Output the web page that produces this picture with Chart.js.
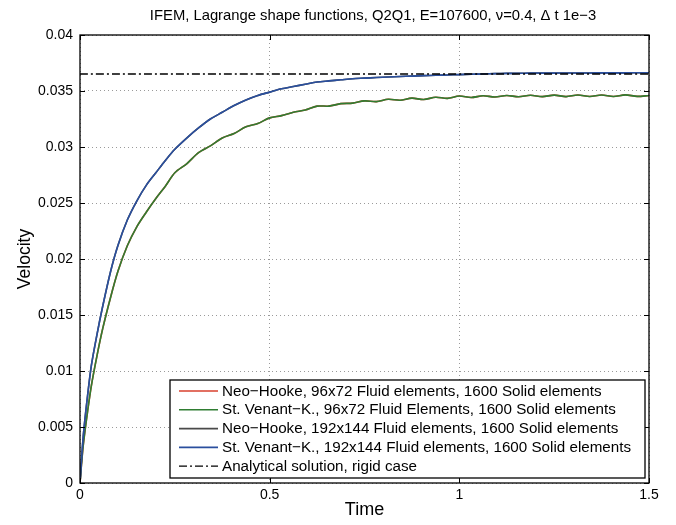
<!DOCTYPE html>
<html>
<head>
<meta charset="utf-8">
<script src="https://cdn.jsdelivr.net/npm/chart.js@4.4.1/dist/chart.umd.min.js"></script>
<style>
  html, body { margin: 0; padding: 0; background: #fff; }
  #wrap { width: 676px; height: 525px; }
</style>
</head>
<body>
<div id="wrap"><canvas id="velChart" width="676" height="525"></canvas></div>
<script>
const time = [0, 0.005, 0.01, 0.02, 0.03, 0.045, 0.06, 0.08, 0.1, 0.125, 0.15, 0.175, 0.2, 0.225,
  0.25, 0.28125, 0.3125, 0.34375, 0.375, 0.40625, 0.4375, 0.46875, 0.5, 0.53125, 0.5625, 0.59375,
  0.625, 0.65625, 0.6875, 0.71875, 0.75, 0.78125, 0.8125, 0.84375, 0.875, 0.90625, 0.9375, 0.96875,
  1.0, 1.03125, 1.0625, 1.09375, 1.125, 1.15625, 1.1875, 1.21875, 1.25, 1.28125, 1.3125, 1.34375,
  1.375, 1.40625, 1.4375, 1.46875, 1.5];

// St. Venant-K. 96x72 (the red Neo-Hooke 96x72 run lies right under it)
const stVenant96 = [0, 0.0021, 0.0038, 0.0064, 0.0087, 0.0114, 0.0138, 0.0165, 0.0189, 0.0212, 0.0229, 0.0242, 0.0254, 0.0265,
  0.0277, 0.0285, 0.0295, 0.0301, 0.0308, 0.0312, 0.0318, 0.0321, 0.0326, 0.0328, 0.0331, 0.0333,
  0.03365, 0.03365, 0.03387, 0.03392, 0.03412, 0.03405, 0.03426, 0.03418, 0.03436, 0.03424, 0.03444, 0.03434,
  0.03455, 0.03442, 0.03457, 0.03447, 0.0346, 0.03449, 0.03462, 0.0345, 0.03463, 0.0345, 0.03464, 0.03451,
  0.03464, 0.03451, 0.03465, 0.03452, 0.0346];
const neoHooke96 = [0, 0.0021, 0.0038, 0.0064, 0.0087, 0.0114, 0.0138, 0.0165, 0.0189, 0.0212, 0.0229, 0.0242, 0.0254, 0.0265,
  0.0277, 0.0285, 0.0295, 0.0301, 0.0308, 0.0312, 0.0318, 0.0321, 0.0326, 0.0328, 0.0331, 0.0333,
  0.03365, 0.03365, 0.03387, 0.03392, 0.03412, 0.03405, 0.03426, 0.03418, 0.03436, 0.03424, 0.03444, 0.03434,
  0.03455, 0.03442, 0.03457, 0.03447, 0.0346, 0.03449, 0.03462, 0.0345, 0.03463, 0.0345, 0.03464, 0.03451,
  0.03464, 0.03451, 0.03465, 0.03452, 0.0346];

// 192x144 runs, both material laws on top of each other
const stVenant192 = [0, 0.0026, 0.0047, 0.0078, 0.0105, 0.0133, 0.0158, 0.0188, 0.0212, 0.0235, 0.0252, 0.0266, 0.0277, 0.0288,
  0.0298, 0.0308, 0.0317, 0.0325, 0.0331, 0.0337, 0.0342, 0.0346, 0.0349, 0.0352, 0.0354, 0.0356,
  0.0358, 0.0359, 0.0360, 0.0361, 0.03615, 0.0362, 0.03625, 0.0363, 0.03633, 0.03637, 0.0364, 0.03643,
  0.03646, 0.0365, 0.03652, 0.03655, 0.03657, 0.03658, 0.0366, 0.0366, 0.0366, 0.03661, 0.03661, 0.03661,
  0.03662, 0.03662, 0.03662, 0.03663, 0.03663];
const neoHooke192 = [0, 0.0026, 0.0047, 0.0078, 0.0105, 0.0133, 0.0158, 0.0188, 0.0212, 0.0235, 0.0252, 0.0266, 0.0277, 0.0288,
  0.0298, 0.0308, 0.0317, 0.0325, 0.0331, 0.0337, 0.0342, 0.0346, 0.0349, 0.0352, 0.0354, 0.0356,
  0.0358, 0.0359, 0.0360, 0.0361, 0.03615, 0.0362, 0.03625, 0.0363, 0.03633, 0.03637, 0.0364, 0.03643,
  0.03646, 0.0365, 0.03652, 0.03655, 0.03657, 0.03658, 0.0366, 0.0366, 0.0366, 0.03661, 0.03661, 0.03661,
  0.03662, 0.03662, 0.03662, 0.03663, 0.03663];

const rigidTime = [0, 1.5];
const rigidVel = [0.03652, 0.03652];

const xTicks = [0, 0.5, 1, 1.5];
const yTicks = [0, 0.005, 0.01, 0.015, 0.02, 0.025, 0.03, 0.035, 0.04];

const titleText = "IFEM, Lagrange shape functions, Q2Q1, E=107600, \u03bd=0.4, \u0394 t 1e\u22123";

function pts(xs, ys) {
  return xs.map((x, i) => ({ x: x, y: ys[i] }));
}

const FONT = "'Liberation Sans', Arial, sans-serif";
Chart.defaults.font.family = FONT;
Chart.defaults.color = "#000";

// MATLAB style box: frame, inward ticks on all four sides, title
const axesBox = {
  id: "axesBox",
  afterDatasetsDraw(chart) {
    const { ctx, chartArea: a, scales } = chart;
    ctx.save();
    ctx.strokeStyle = "#000";
    ctx.lineWidth = 1.3;
    ctx.strokeRect(a.left, a.top, a.right - a.left, a.bottom - a.top);
    ctx.lineWidth = 1;
    ctx.beginPath();
    xTicks.forEach(v => {
      const px = Math.round(scales.x.getPixelForValue(v)) + 0.5;
      ctx.moveTo(px, a.bottom); ctx.lineTo(px, a.bottom - 5);
      ctx.moveTo(px, a.top); ctx.lineTo(px, a.top + 5);
    });
    yTicks.forEach(v => {
      const py = Math.round(scales.y.getPixelForValue(v)) + 0.5;
      ctx.moveTo(a.left, py); ctx.lineTo(a.left + 5, py);
      ctx.moveTo(a.right, py); ctx.lineTo(a.right - 5, py);
    });
    ctx.stroke();
    ctx.fillStyle = "#000";
    ctx.font = "14.8px " + FONT;
    ctx.textAlign = "center";
    ctx.textBaseline = "middle";
    ctx.fillText(titleText, 373, 16);
    ctx.restore();
  }
};

// legend drawn inside the axes, lower right, with a black frame
const boxLegend = {
  id: "boxLegend",
  afterDraw(chart) {
    const { ctx } = chart;
    const x0 = 170, y0 = 380, w = 475, h = 98, rowH = 18.8;
    ctx.save();
    ctx.fillStyle = "#fff";
    ctx.fillRect(x0, y0, w, h);
    ctx.strokeStyle = "#000";
    ctx.lineWidth = 1.3;
    ctx.strokeRect(x0, y0, w, h);
    ctx.font = "15.2px " + FONT;
    ctx.textBaseline = "middle";
    ctx.textAlign = "left";
    chart.data.datasets.forEach((ds, i) => {
      const cy = y0 + 11 + i * rowH;
      ctx.beginPath();
      ctx.strokeStyle = ds.borderColor;
      ctx.lineWidth = ds.borderWidth;
      ctx.setLineDash(ds.borderDash || []);
      ctx.moveTo(179, cy); ctx.lineTo(218, cy);
      ctx.stroke();
      ctx.setLineDash([]);
      ctx.fillStyle = "#000";
      ctx.fillText(ds.label, 222, cy + 0.5);
    });
    ctx.restore();
  }
};

new Chart(document.getElementById("velChart"), {
  type: "line",
  data: {
    datasets: [
      {
        label: "Neo\u2212Hooke, 96x72 Fluid elements, 1600 Solid elements",
        data: pts(time, neoHooke96),
        borderColor: "#d8402e",
        borderWidth: 1.6,
        order: 5,
      },
      {
        label: "St. Venant\u2212K., 96x72 Fluid Elements, 1600 Solid elements",
        data: pts(time, stVenant96),
        borderColor: "#2f7d32",
        borderWidth: 1.6,
        order: 4,
      },
      {
        label: "Neo\u2212Hooke, 192x144 Fluid elements, 1600 Solid elements",
        data: pts(time, neoHooke192),
        borderColor: "#4a4a4a",
        borderWidth: 1.6,
        order: 3,
      },
      {
        label: "St. Venant\u2212K., 192x144 Fluid elements, 1600 Solid elements",
        data: pts(time, stVenant192),
        borderColor: "#2a4f9e",
        borderWidth: 1.6,
        order: 2,
      },
      {
        label: "Analytical solution, rigid case",
        data: pts(rigidTime, rigidVel),
        borderColor: "#000",
        borderWidth: 1.3,
        borderDash: [8, 3, 2, 3],
        order: 1,
      },
    ],
  },
  options: {
    responsive: false,
    animation: false,
    layout: { padding: { top: 35, right: 27, left: 0, bottom: 0 } },
    elements: { point: { radius: 0 }, line: { tension: 0.3, fill: false } },
    plugins: {
      legend: { display: false },
      title: { display: false },
      tooltip: { enabled: false },
    },
    scales: {
      x: {
        type: "linear",
        min: 0,
        max: 1.5,
        afterBuildTicks: s => { s.ticks = xTicks.map(v => ({ value: v })); },
        afterFit: s => { s.height = 42; },
        ticks: {
          padding: 4,
          font: { size: 14 },
          callback: v => String(parseFloat(v.toFixed(2))),
        },
        grid: { color: "#9a9a9a", lineWidth: 1, drawTicks: false },
        border: { display: false, dash: [1, 3] },
        title: { display: true, text: "Time", font: { size: 18 }, padding: { top: 0, bottom: 4 } },
      },
      y: {
        min: 0,
        max: 0.04,
        afterBuildTicks: s => { s.ticks = yTicks.map(v => ({ value: v })); },
        afterFit: s => { s.width = 80; },
        ticks: {
          padding: 7,
          font: { size: 14 },
          callback: v => String(parseFloat(v.toFixed(3))),
        },
        grid: { color: "#9a9a9a", lineWidth: 1, drawTicks: false },
        border: { display: false, dash: [1, 3] },
        title: { display: true, text: "Velocity", font: { size: 17.5 }, padding: { top: 14.5, bottom: 0 } },
      },
    },
  },
  plugins: [axesBox, boxLegend],
});
</script>
</body>
</html>
